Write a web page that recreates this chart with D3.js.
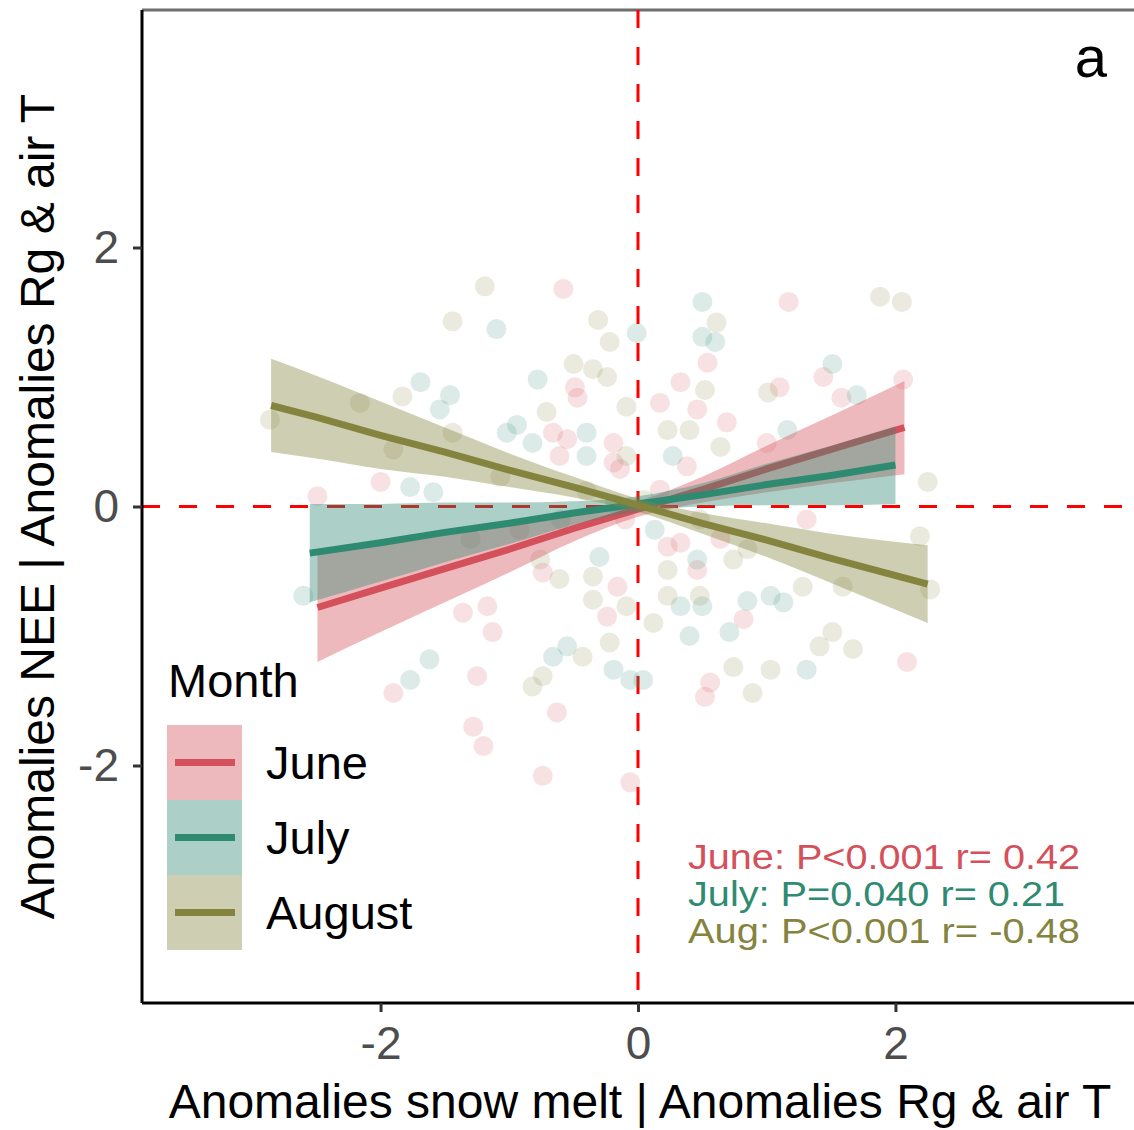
<!DOCTYPE html>
<html><head><meta charset="utf-8">
<script src="https://cdn.jsdelivr.net/npm/d3@7"></script>
<style>html,body{margin:0;padding:0;background:#fff}svg{display:block}text{font-family:"Liberation Sans",Arial,sans-serif}</style>
</head><body><svg id="chart" width="1134" height="1130"></svg>
<script>
// ---------- data ----------
const months = ["June", "July", "August"];
const monthColors = ["#d4505a", "#2f8a72", "#85843f"];
const xTicks = [-2, 0, 2];
const yTicks = [-2, 0, 2];
const xTitle = "Anomalies snow melt | Anomalies Rg & air T";
const yTitle = "Anomalies NEE | Anomalies Rg & air T";
const statLabels = ["June: P<0.001 r= 0.42", "July: P=0.040 r= 0.21", "Aug: P<0.001 r= -0.48"];
const panelLabel = "a";

const junePoints = [[-0.58,1.68],[-0.49,0.92],[-0.47,0.84],[-0.66,0.57],[-0.55,0.52],[-0.19,0.49],[-0.61,0.39],[-0.19,0.34],[-0.14,0.29],[-2.00,0.19],[-2.49,0.08],
  [0.54,1.11],[1.17,1.58],[0.33,0.96],[0.17,0.80],[1.10,0.92],[1.44,1.00],[1.58,0.84],[2.06,0.98],[0.46,0.75],[0.69,0.65],[1.00,0.49],[0.38,0.31],
  [-1.90,-1.44],[-1.36,-0.82],[-1.17,-0.77],[-1.13,-0.97],[-1.25,-1.31],[-1.28,-1.70],[-1.20,-1.85],[-0.74,-2.08],[-0.63,-1.59],[-0.74,-0.51],[-0.16,-0.62],[-0.24,-0.85],[-0.06,-2.13],
  [0.33,-0.28],[0.23,-0.31],[0.46,-0.49],[0.82,-0.87],[0.56,-1.36],[0.52,-1.47],[2.09,-1.20],[0.64,-0.25],[1.31,-0.10],[-0.92,-0.18],[-0.10,-0.10],[0.17,0.13]];
const julyPoints = [[-1.10,1.37],[-0.01,1.34],[-0.78,0.98],[-1.69,0.96],[-1.46,0.86],[-1.54,0.75],[-0.94,0.63],[-1.02,0.57],[-0.40,0.57],[-0.82,0.49],[-0.40,0.39],[-1.77,0.15],[-1.59,0.11],
  [0.50,1.58],[0.50,1.31],[0.60,1.27],[1.51,1.10],[1.70,0.86],[1.16,0.59],[0.27,0.39],
  [-2.60,-0.69],[-1.62,-1.18],[-1.77,-1.34],[-0.66,-1.16],[-0.55,-1.08],[-0.19,-1.26],[-0.30,-0.39],[0.04,-1.34],
  [0.46,-0.41],[0.33,-0.77],[0.50,-0.77],[0.40,-1.00],[0.71,-0.97],[0.85,-0.73],[1.03,-0.69],[1.13,-0.74],[1.31,-1.26],[-0.06,-1.34],[-0.60,-0.10],[0.13,-0.18],[-0.18,0.02]];
const augustPoints = [[-1.19,1.70],[-1.44,1.43],[-0.31,1.44],[-0.22,1.27],[-0.50,1.10],[-0.24,1.00],[-0.35,1.06],[-1.83,0.85],[-2.16,0.80],[-0.71,0.73],[-0.09,0.77],[-1.90,0.44],[-1.44,0.57],[-1.07,0.23],[-2.86,0.67],
  [0.61,1.42],[1.88,1.62],[2.05,1.58],[0.52,0.90],[1.01,0.88],[0.23,0.59],[0.40,0.59],[0.64,0.46],[2.25,0.19],[-0.09,0.39],
  [-0.82,-1.39],[-0.74,-1.31],[-0.43,-1.16],[-0.22,-1.05],[-0.35,-0.54],[-0.61,-0.56],[-0.76,-0.41],[-0.35,-0.72],[-0.09,-0.77],
  [0.23,-0.49],[0.23,-0.69],[0.48,-0.69],[0.12,-0.90],[0.74,-1.24],[1.03,-1.26],[0.89,-1.44],[1.41,-1.08],[1.51,-0.97],[1.67,-1.10],[2.19,-0.23],[0.85,-0.33],[0.74,-0.41],[1.28,-0.62],[1.59,-0.62],[2.27,-0.64],
  [-1.30,-0.25],[0.05,0.05],[0.48,-0.10],[-0.40,0.12]];

// fitted lines and confidence bands
const juneFitX  = [-2.49,-2,-1.5,-1,-0.5,0,0.5,1,1.5,2.07];
const juneFit   = [-0.78,-0.63,-0.48,-0.33,-0.17,-0.02,0.13,0.29,0.44,0.61];
const juneLower = [-1.20,-0.97,-0.74,-0.51,-0.27,-0.08,0.03,0.11,0.18,0.25];
const juneUpper = [-0.36,-0.29,-0.22,-0.15,-0.07,0.04,0.23,0.47,0.70,0.97];
const julyFitX  = [-2.55,-2,-1.5,-1,-0.5,0,0.5,1,1.5,2.0];
const julyFit   = [-0.36,-0.28,-0.20,-0.13,-0.05,0.02,0.09,0.17,0.24,0.32];
const julyLower = [-0.74,-0.58,-0.43,-0.29,-0.14,-0.04,0.00,0.01,0.01,0.02];
const julyUpper = [0.02,0.02,0.03,0.03,0.04,0.08,0.18,0.33,0.47,0.62];
const augFitX   = [-2.85,-2.5,-2,-1.5,-1,-0.5,0,0.5,1,1.5,2.25];
const augFit    = [0.78,0.69,0.55,0.42,0.28,0.15,0.01,-0.13,-0.26,-0.40,-0.60];
const augLower  = [0.42,0.37,0.29,0.23,0.15,0.07,-0.04,-0.21,-0.39,-0.59,-0.90];
const augUpper  = [1.14,1.01,0.81,0.61,0.41,0.23,0.06,-0.05,-0.13,-0.21,-0.30];

// ---------- drawing ----------
const svg = d3.select("#chart");
svg.append("rect").attr("width",1134).attr("height",1130).attr("fill","#fff");
const L = 142, R = 1134, T = 10, B = 1003;
const x = d3.scaleLinear().domain([-3.853, 3.853]).range([L, R]);
const y = d3.scaleLinear().domain([-3.834, 3.834]).range([B, T]);

// top border remnant
svg.append("line").attr("x1",L).attr("x2",R).attr("y1",T).attr("y2",T).attr("stroke","#6e6e6e").attr("stroke-width",3);

// reference dashed lines
svg.append("line").attr("x1",x(0)).attr("x2",x(0)).attr("y1",T).attr("y2",B)
  .attr("stroke","#ff0000").attr("stroke-width",3).attr("stroke-dasharray","18,19");
svg.append("line").attr("x1",L).attr("x2",R).attr("y1",y(0)).attr("y2",y(0))
  .attr("stroke","#ff0000").attr("stroke-width",3).attr("stroke-dasharray","18,19");

// points
const pointSets = [junePoints, julyPoints, augustPoints];
pointSets.forEach((pts, i) => {
  svg.append("g").selectAll("circle").data(pts).join("circle")
    .attr("cx", d => x(d[0])).attr("cy", d => y(d[1])).attr("r", 10)
    .attr("fill", monthColors[i]).attr("fill-opacity", 0.17);
});

// smooth ribbons + lines
const fits = [
  {xs: juneFitX, fit: juneFit, lo: juneLower, hi: juneUpper},
  {xs: julyFitX, fit: julyFit, lo: julyLower, hi: julyUpper},
  {xs: augFitX, fit: augFit, lo: augLower, hi: augUpper}
];
fits.forEach((f, i) => {
  const rows = f.xs.map((v, k) => ({x: v, fit: f.fit[k], lo: f.lo[k], hi: f.hi[k]}));
  svg.append("path").datum(rows)
    .attr("d", d3.area().x(d => x(d.x)).y0(d => y(d.lo)).y1(d => y(d.hi)).curve(d3.curveMonotoneX))
    .attr("fill", monthColors[i]).attr("fill-opacity", 0.4);
  svg.append("path").datum(rows)
    .attr("d", d3.line().x(d => x(d.x)).y(d => y(d.fit)))
    .attr("fill","none").attr("stroke", monthColors[i]).attr("stroke-width", 7);
});

// axes
const fontSize = 46;
const gx = svg.append("g").attr("transform", `translate(0,${B})`)
  .call(d3.axisBottom(x).tickValues(xTicks).tickSize(9).tickSizeOuter(0).tickPadding(14).tickFormat(d3.format("d")));
const gy = svg.append("g").attr("transform", `translate(${L},0)`)
  .call(d3.axisLeft(y).tickValues(yTicks).tickSize(9).tickSizeOuter(0).tickPadding(14).tickFormat(d3.format("d")));
[gx, gy].forEach(g => {
  g.select(".domain").attr("stroke","#000").attr("stroke-width",3);
  g.selectAll(".tick line").attr("stroke","#333").attr("stroke-width",3);
  g.selectAll(".tick text").attr("font-size", fontSize).attr("fill","#4d4d4d")
    .attr("font-family",'"Liberation Sans",Arial,sans-serif')
    .text(d => d < 0 ? "-" + Math.abs(d) : String(d));
});
gy.select(".domain").attr("d", `M0,${T}V${B}`);
gx.select(".domain").attr("d", `M${L},0H${R}`);

// axis titles
svg.append("text").attr("x", 640).attr("y", 1118).attr("text-anchor","middle")
  .attr("font-size", 48).attr("fill","#000").text(xTitle);
svg.append("text").attr("transform", `translate(54,${(T+B)/2}) rotate(-90)`).attr("text-anchor","middle")
  .attr("font-size", 48).attr("fill","#000").text(yTitle);

// panel label
svg.append("text").attr("x", 1091).attr("y", 77).attr("text-anchor","middle")
  .attr("font-size", 58).attr("fill","#000").text(panelLabel);

// legend
const lg = svg.append("g");
lg.append("text").attr("x",168).attr("y",697).attr("font-size",47).attr("fill","#000").text("Month");
months.forEach((m, i) => {
  const ky = 725 + i * 75;
  lg.append("rect").attr("x",167).attr("y",ky).attr("width",75).attr("height",75)
    .attr("fill", monthColors[i]).attr("fill-opacity",0.4);
  lg.append("line").attr("x1",175).attr("x2",235).attr("y1",ky+37.5).attr("y2",ky+37.5)
    .attr("stroke", monthColors[i]).attr("stroke-width",7);
  lg.append("text").attr("x",266).attr("y",ky+37.5).attr("dy","0.36em").attr("font-size",47).attr("fill","#000").text(m);
});

// stats annotation
const statWidths = [392, 377, 392];
statLabels.forEach((s, i) => {
  svg.append("text").attr("x",688).attr("y",869 + i*37).attr("font-size",35.5)
    .attr("textLength", statWidths[i]).attr("lengthAdjust","spacingAndGlyphs")
    .attr("fill", monthColors[i]).text(s);
});
</script></body></html>
